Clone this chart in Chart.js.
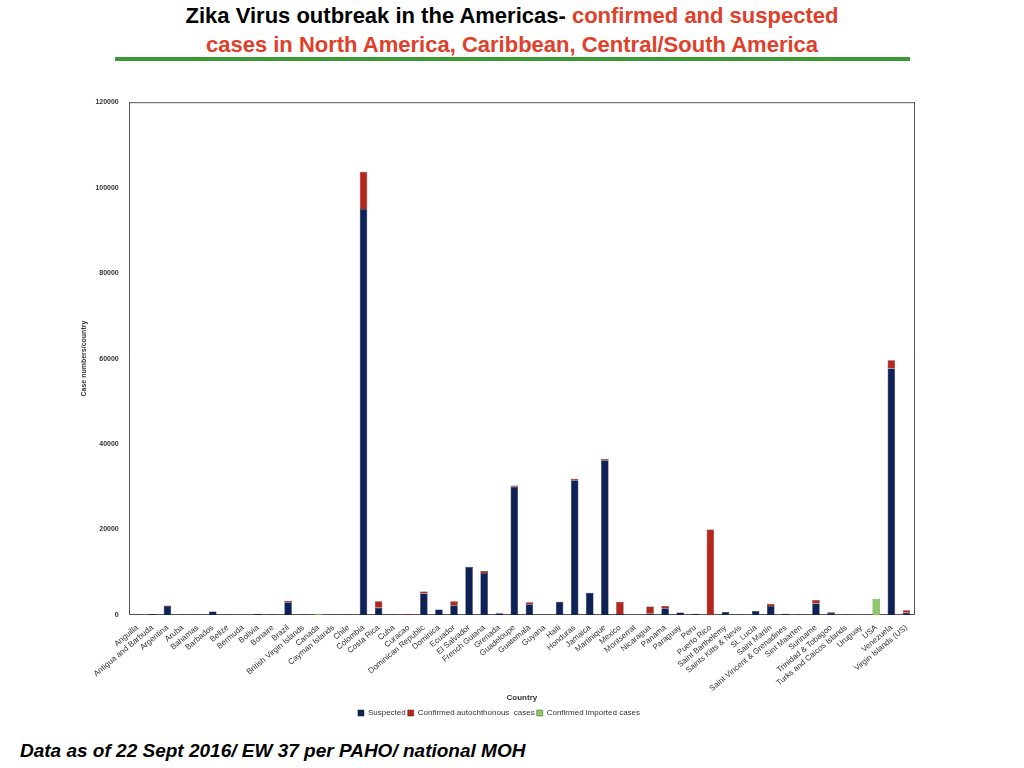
<!DOCTYPE html>
<html>
<head>
<meta charset="utf-8">
<script src="https://cdn.jsdelivr.net/npm/chart.js@4"></script>
<style>
  body { margin: 0; width: 1024px; height: 768px; background: #fff; font-family: 'Liberation Sans', Arial, sans-serif; position: relative; overflow: hidden; }
  .title { position: absolute; top: 1px; left: 0; width: 1024px; text-align: center; font-weight: bold; font-size: 22px; line-height: 29px; color: #000; }
  .title span { color: #e0402a; }
  .rule { position: absolute; top: 57px; left: 115px; width: 795px; height: 4px; background: #3c9a35; }
  .footer { position: absolute; top: 740px; left: 20px; font-weight: bold; font-style: italic; font-size: 19px; }
  .wrap { position: absolute; left: 76px; top: 95px; width: 846px; height: 632px; }
</style>
</head>
<body>
<div class="title">Zika Virus outbreak in the Americas- <span>confirmed and suspected<br>cases in North America, Caribbean, Central/South America</span></div>
<div class="rule"></div>
<div class="wrap"><canvas id="chart"></canvas></div>
<div class="footer">Data as of 22 Sept 2016/ EW 37 per PAHO/ national MOH</div>
<script>
const countries = ['Anguilla', 'Antigua and Barbuda', 'Argentina', 'Aruba', 'Bahamas', 'Barbados', 'Belize', 'Bermuda', 'Bolivia', 'Bonaire', 'Brazil', 'British Virgin Islands', 'Canada', 'Cayman Islands', 'Chile', 'Colombia', 'Costa Rica', 'Cuba', 'Curacao', 'Dominican Republic', 'Dominica', 'Ecuador', 'El Salvador', 'French Guiana', 'Grenada', 'Guadeloupe', 'Guatemala', 'Guyana', 'Haiti', 'Honduras', 'Jamaica', 'Martinique', 'Mexico', 'Montserrat', 'Nicaragua', 'Panama', 'Paraguay', 'Peru', 'Puerto Rico', 'Saint Barthelemy', 'Saints Kitts & Nevis', 'St. Lucia', 'Saint Martin', 'Saint Vincent & Grenadines', 'Sint Maarten', 'Suriname', 'Trinidad & Tobagoo', 'Turks and Caicos Islands', 'Uruguay', 'USA', 'Venezuela', 'Virgin Islands (US)']

const suspected = [100, 200, 2100, 100, 100, 800, 100, 0, 300, 100, 3000, 100, 0, 100, 100, 95000, 1700, 100, 0, 5000, 1300, 2300, 11200, 9800, 400, 30000, 2500, 0, 3100, 31500, 5200, 36200, 200, 0, 300, 1600, 600, 300, 0, 700, 100, 900, 2100, 300, 100, 2700, 500, 100, 0, 0, 57700, 500]
const confirmedAuto = [0, 0, 100, 0, 0, 0, 0, 0, 0, 0, 300, 0, 0, 0, 0, 8700, 1500, 0, 300, 500, 0, 900, 100, 500, 0, 300, 500, 100, 0, 400, 0, 300, 2900, 0, 1700, 500, 0, 0, 20000, 0, 0, 0, 500, 0, 0, 800, 200, 0, 0, 0, 1900, 600]
const confirmedImported = [0, 0, 0, 0, 0, 0, 0, 0, 0, 0, 0, 0, 300, 0, 0, 0, 0, 0, 0, 0, 0, 0, 0, 0, 0, 0, 0, 0, 0, 0, 0, 0, 0, 0, 0, 0, 0, 0, 0, 0, 0, 0, 0, 0, 0, 0, 0, 0, 0, 3800, 0, 0]

const yTicks = [0, 20000, 40000, 60000, 80000, 100000, 120000]

const tickFont = { family: 'Liberation Sans, Arial, sans-serif', size: 8 }
const smallBold = { family: 'Liberation Sans, Arial, sans-serif', size: 7, weight: 'bold' }

new Chart(document.getElementById('chart'), {
  type: 'bar',
  data: {
    labels: countries,
    datasets: [
      { label: 'Suspected', data: suspected, backgroundColor: '#0f2257', borderColor: '#0a1530', borderWidth: 0.5 },
      { label: 'Confirmed autochthonous  cases', data: confirmedAuto, backgroundColor: '#b3281c', borderColor: '#5a140e', borderWidth: 0.5 },
      { label: 'Confirmed imported cases', data: confirmedImported, backgroundColor: '#8cc864', borderColor: '#3a5a20', borderWidth: 0.5 },
    ],
  },
  options: {
    responsive: true,
    maintainAspectRatio: false,
    animation: false,
    layout: { padding: { bottom: 0 } },
    datasets: { bar: { categoryPercentage: 0.5, barPercentage: 1 } },
    plugins: {
      legend: {
        position: 'bottom',
        labels: { color: '#333', font: { ...tickFont, size: 8 }, boxWidth: 6, boxHeight: 6, padding: 2 },
      },
      tooltip: { enabled: false },
    },
    scales: {
      x: {
        stacked: true,
        grid: { display: false },
        border: { color: '#555' },
        ticks: { color: '#333', font: tickFont, autoSkip: false, minRotation: 40, maxRotation: 40, padding: 0 },
        title: { display: true, text: 'Country', color: '#333', font: { ...smallBold, size: 8 }, padding: { top: 0, bottom: 4 } },
      },
      y: {
        stacked: true,
        min: 0,
        max: 120000,
        afterBuildTicks: (axis) => { axis.ticks = yTicks.map((v) => ({ value: v })) },
        grid: { display: false },
        border: { color: '#555' },
        ticks: { color: '#333', font: smallBold, callback: (v) => String(v) },
        title: { display: true, text: 'Case numbers/country', color: '#333', font: smallBold },
      },
      y2: {
        position: 'right',
        min: 0, max: 1,
        grid: { display: false },
        border: { color: '#555' },
        ticks: { display: false },
      },
    },
  },
  plugins: [{
    id: 'topBorder',
    afterDraw(chart) {
      const { ctx, chartArea } = chart
      ctx.save()
      ctx.strokeStyle = '#555'
      ctx.lineWidth = 1
      ctx.beginPath()
      ctx.moveTo(chartArea.left, chartArea.top + 0.5)
      ctx.lineTo(chartArea.right, chartArea.top + 0.5)
      ctx.stroke()
      ctx.restore()
    },
  }],
})
</script>
</body>
</html>
